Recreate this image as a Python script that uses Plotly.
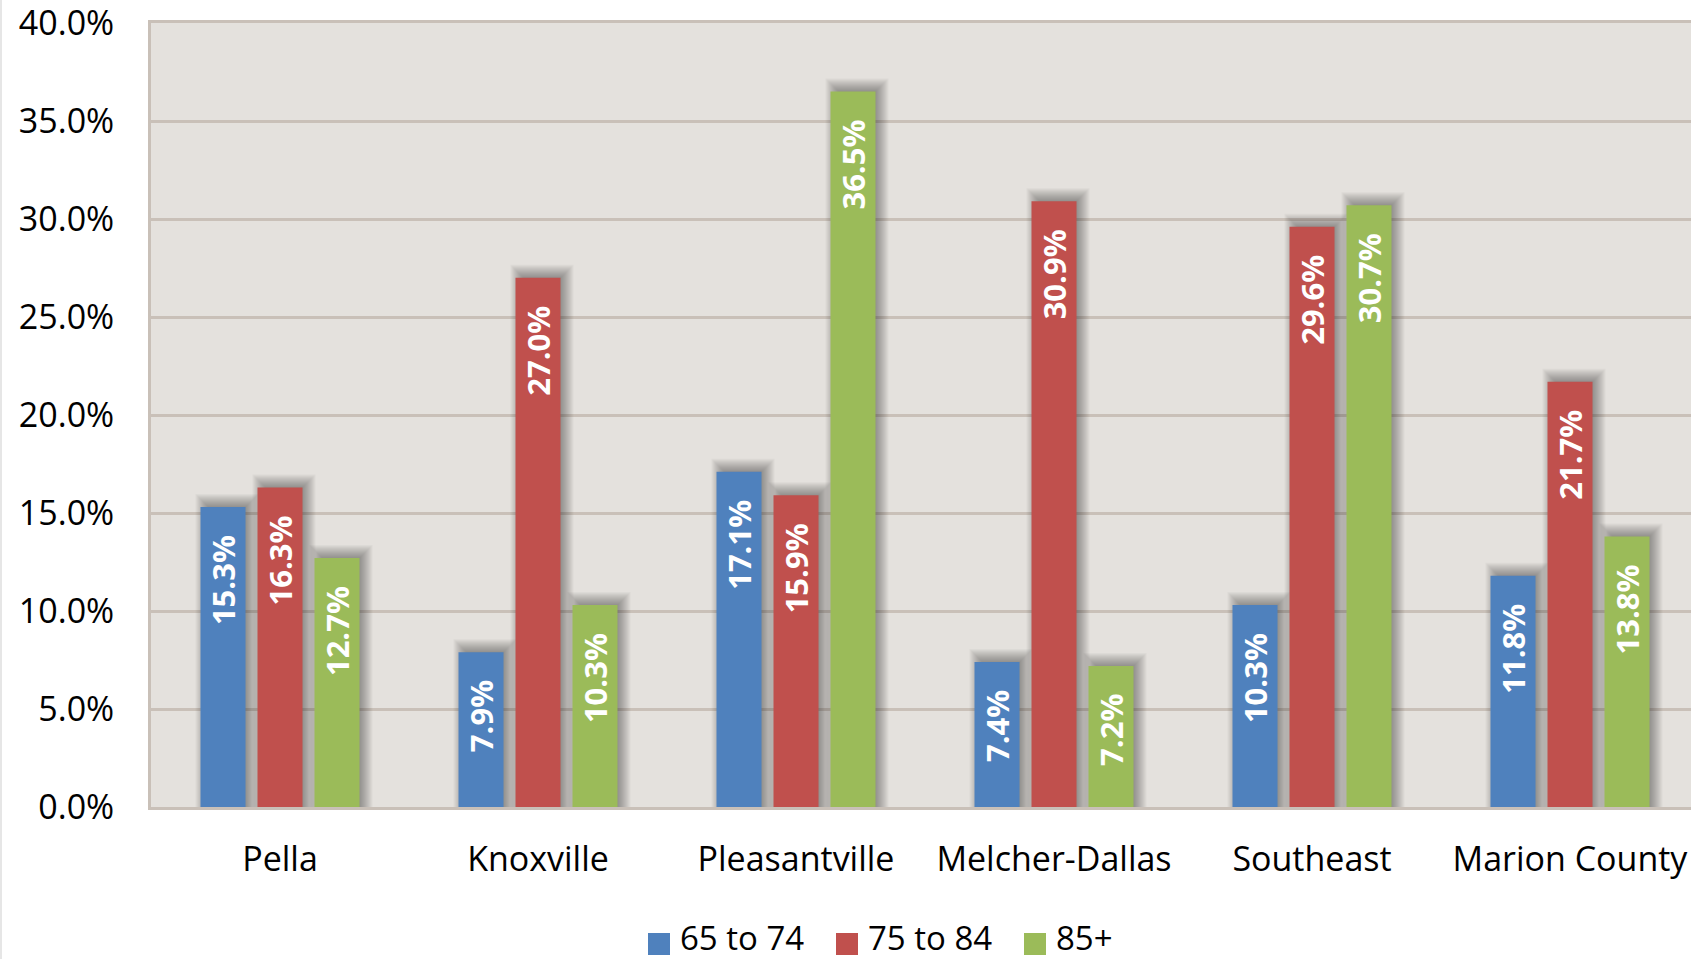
import plotly.graph_objects as go

# Share of older residents by age band, per area
areas = ["Pella", "Knoxville", "Pleasantville", "Melcher-Dallas", "Southeast", "Marion County"]
age_65_74 = [15.3, 7.9, 17.1, 7.4, 10.3, 11.8]
age_75_84 = [16.3, 27.0, 15.9, 30.9, 29.6, 21.7]
age_85_plus = [12.7, 10.3, 36.5, 7.2, 30.7, 13.8]

series_names = ["65 to 74", "75 to 84", "85+"]
series_values = [age_65_74, age_75_84, age_85_plus]
series_colors = ["#4F81BD", "#C0504D", "#9BBB59"]

y_ticks = [0, 5, 10, 15, 20, 25, 30, 35, 40]
y_tick_text = [f"{v:.1f}%" for v in y_ticks]

# Page geometry (pixels)
W, H = 1691, 959
M_L, M_T, M_B = 151, 23, 152
PLOT_W = W - M_L
PLOT_H = H - M_T - M_B
CAT_PX = 258.0                      # width of one category slot
X_MAX = -0.5 + PLOT_W / CAT_PX      # right edge falls slightly short of the last slot
Y_MAX = 40.0

px_x = 1.0 / CAT_PX                 # one pixel in category units
px_y = Y_MAX / PLOT_H               # one pixel in percent units

BAR_W = 45 * px_x
STEP = 57 * px_x

GRID = "#C9C0B8"
FONT = "Open Sans, Noto Sans, sans-serif"

fig = go.Figure()
x_idx = list(range(len(areas)))

# soft drop shadow: stacked translucent copies, shifted right and up
SH_DX, SH_DY = 4, 4
for k, vals in enumerate(series_values):
    centre = (k - 1) * STEP
    for s in range(-4, 10):
        fig.add_trace(go.Bar(
            x=areas,
            y=[v + (SH_DY + s) * px_y for v in vals],
            base=0,
            width=BAR_W + 2 * s * px_x,
            offset=centre - BAR_W / 2 + (SH_DX - s) * px_x,
            marker=dict(color="rgba(40,40,40,0.035)", line=dict(width=0)),
            showlegend=False,
            hoverinfo="skip",
        ))

# the bars themselves
for k, (name, vals, col) in enumerate(zip(series_names, series_values, series_colors)):
    centre = (k - 1) * STEP
    fig.add_trace(go.Bar(
        x=areas,
        y=vals,
        width=BAR_W,
        offset=centre - BAR_W / 2,
        name=name,
        marker=dict(color=col, line=dict(width=0)),
        showlegend=False,
    ))

annotations = []
# value labels, rotated, just inside the top of each bar
for k, vals in enumerate(series_values):
    centre = (k - 1) * STEP
    for i, v in zip(x_idx, vals):
        annotations.append(dict(
            x=i + centre, y=v, xref="x", yref="y",
            text=f"{v:.1f}%", textangle=-90,
            xanchor="center", yanchor="top", yshift=-26,
            showarrow=False,
            font=dict(family=FONT, size=31, color="white", weight="bold"),
        ))

# legend drawn as swatches plus labels along the bottom
def px_to_paper_x(px):
    return (px - M_L) / PLOT_W

def px_to_paper_y(py):
    return (H - M_B - py) / PLOT_H

shapes = []
legend_swatch_x = [648, 836, 1024]
for name, col, sx in zip(series_names, series_colors, legend_swatch_x):
    shapes.append(dict(
        type="rect", xref="paper", yref="paper",
        x0=px_to_paper_x(sx), x1=px_to_paper_x(sx + 22),
        y0=px_to_paper_y(955), y1=px_to_paper_y(933),
        fillcolor=col, line=dict(width=0),
    ))
    annotations.append(dict(
        x=px_to_paper_x(sx + 30), y=px_to_paper_y(937),
        xref="paper", yref="paper", xanchor="left", yanchor="middle",
        text=name, showarrow=False,
        font=dict(family=FONT, size=33, color="black"),
    ))

# faint frame edge along the left of the page
shapes.append(dict(
    type="line", xref="paper", yref="paper",
    x0=px_to_paper_x(1), x1=px_to_paper_x(1),
    y0=px_to_paper_y(0), y1=px_to_paper_y(H),
    line=dict(color="#E6E6E6", width=2),
))

fig.update_layout(
    width=W, height=H,
    margin=dict(l=M_L, r=0, t=M_T, b=M_B, pad=0),
    paper_bgcolor="white",
    plot_bgcolor="#E4E1DD",
    barmode="overlay",
    showlegend=False,
    annotations=annotations,
    shapes=shapes,
    font=dict(family=FONT, color="black"),
)

fig.update_xaxes(
    type="category",
    range=[-0.5, X_MAX],
    showgrid=False,
    showline=True, linecolor=GRID, linewidth=3, mirror=True,
    ticks="outside", ticklen=20, tickcolor="rgba(0,0,0,0)",
    tickfont=dict(family=FONT, size=34, color="black"),
    automargin=False,
    fixedrange=True,
)

fig.update_yaxes(
    range=[0, Y_MAX],
    tickvals=y_ticks, ticktext=y_tick_text,
    showgrid=True, gridcolor=GRID, gridwidth=3,
    zeroline=False,
    showline=True, linecolor=GRID, linewidth=3,
    ticks="outside", ticklen=27, tickcolor="rgba(0,0,0,0)",
    tickfont=dict(family=FONT, size=34, color="black"),
    ticklabeloverflow="allow",
    automargin=False,
    fixedrange=True,
)

fig.write_html("out.html")
